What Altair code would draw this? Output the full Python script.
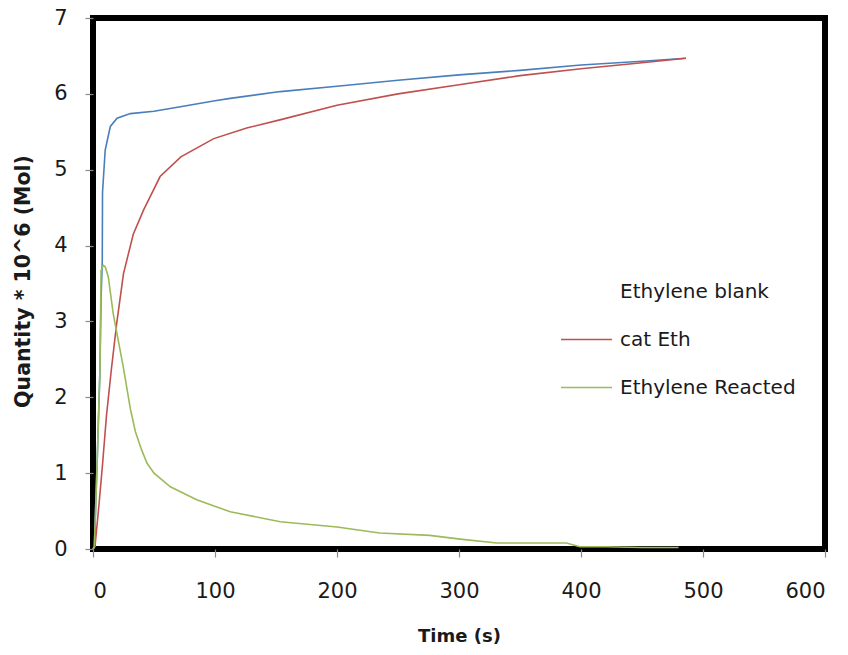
import altair as alt
import pandas as pd

# ---- data ----
blank_t = [0, 1.1, 3.5, 5.7, 6.6, 7.6, 7.8, 10, 14.2, 19.7, 30.6, 50, 71.6, 100, 112.5,
           153.5, 200, 250, 300, 350, 400, 450, 486]
blank_v = [0, 0.03, 1.2, 2.36, 3.3, 3.8, 4.7, 5.26, 5.57, 5.68, 5.74, 5.77, 5.83, 5.91, 5.94,
           6.03, 6.10, 6.18, 6.25, 6.31, 6.38, 6.43, 6.47]

cat_t = [0, 1.6, 5, 8, 11, 15, 19.4, 25, 33, 41.5, 55, 72, 99, 126, 154, 200, 250, 300,
         350, 400, 450, 486]
cat_v = [0, 0.03, 0.6, 1.15, 1.75, 2.36, 2.97, 3.63, 4.15, 4.47, 4.91, 5.17, 5.41, 5.55,
         5.66, 5.85, 6.0, 6.12, 6.24, 6.33, 6.41, 6.47]

react_t = [0, 1.1, 3.5, 5.7, 6.6, 8.4, 10, 12.5, 16.6, 20.7, 24.8, 30.6, 34.7, 40, 44.3, 50,
           63.4, 85, 112.5, 153.5, 200, 235, 276, 301, 331, 360, 388, 399, 420, 450, 480]
react_v = [0, 0.03, 1.2, 2.36, 3.67, 3.74, 3.72, 3.59, 3.1, 2.75, 2.40, 1.85, 1.55, 1.3, 1.13,
           1.0, 0.82, 0.65, 0.49, 0.36, 0.29, 0.21, 0.18, 0.13, 0.08, 0.08, 0.08, 0.03, 0.03,
           0.02, 0.02]

series_names = ["Ethylene blank", "cat Eth", "Ethylene Reacted"]
series_colors = ["#4a7ebb", "#c0504d", "#9bbb59"]
x_ticks = [0, 100, 200, 300, 400, 500, 600]
y_ticks = [0, 1, 2, 3, 4, 5, 6, 7]

rows = []
for name, ts, vs in zip(series_names, [blank_t, cat_t, react_t], [blank_v, cat_v, react_v]):
    for i, (t, v) in enumerate(zip(ts, vs)):
        rows.append({"series": name, "t": t, "v": v, "i": i})
df = pd.DataFrame(rows)

FONT = "DejaVu Sans"
TXT = "#1a1a1a"

x_enc = alt.X("t:Q", scale=alt.Scale(domain=[0, 600], nice=False),
              axis=alt.Axis(values=x_ticks, title="Time (s)", labelPadding=23,
                            titlePadding=26, titleFontSize=18))
y_enc = alt.Y("v:Q", scale=alt.Scale(domain=[0, 7], nice=False),
              axis=alt.Axis(values=y_ticks, title="Quantity * 10^6  (Mol)", labelPadding=18,
                            titlePadding=20, titleY=263, titleFontSize=20.5))

blue = alt.Chart(df[df.series == "Ethylene blank"]).mark_line(
    color=series_colors[0], strokeWidth=1.6
).encode(x=x_enc, y=y_enc, order="i:Q")

others = alt.Chart(df[df.series != "Ethylene blank"]).mark_line(strokeWidth=1.6).encode(
    x=x_enc, y=y_enc, order="i:Q",
    color=alt.Color("series:N",
                    scale=alt.Scale(domain=series_names,
                                    range=["rgba(0,0,0,0)", series_colors[1], series_colors[2]]),
                    legend=alt.Legend(title=None, orient="none", legendX=467, legendY=247,
                                      symbolType="stroke", symbolSize=2600,
                                      symbolStrokeWidth=1.6, labelFontSize=20, labelFont=FONT,
                                      labelColor=TXT, labelOffset=7, rowPadding=11, padding=0,
                                      labelLimit=0)),
)

chart = alt.layer(blue, others).properties(
    width=732, height=531,
    padding={"left": 93, "top": 18, "right": 23, "bottom": 106},
    autosize=alt.AutoSizeParams(type="none"),
).configure_view(
    stroke="black", strokeWidth=6
).configure_axis(
    grid=False, domain=False, tickColor="#8a8a8a", tickSize=8, tickWidth=1.2,
    labelFont=FONT, labelFontSize=21, labelColor=TXT,
    titleFont=FONT, titleFontWeight="bold", titleColor=TXT,
)

chart.save("out.html", embed_options={"renderer": "svg", "actions": False})
